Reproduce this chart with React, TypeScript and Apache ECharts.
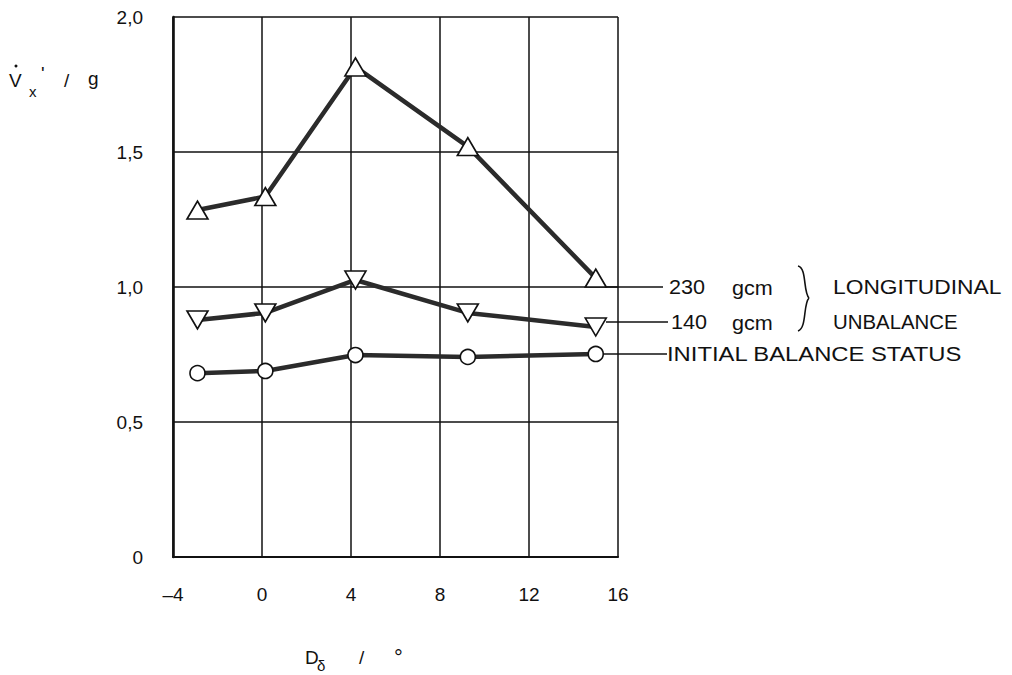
import React, { useEffect, useRef } from "react";
import * as echarts from "echarts";

// D_delta (degrees) positions of the measurements
const xValues = [-2.9, 0.15, 4.2, 9.25, 15.0];
// V'x / g for each balance state
const unbalance230 = [1.285, 1.335, 1.815, 1.52, 1.033];
const unbalance140 = [0.878, 0.904, 1.026, 0.904, 0.852];
const initialBalance = [0.681, 0.689, 0.748, 0.741, 0.752];

const xMin = -4;
const xMax = 16;
const xStep = 4;
const yMin = 0;
const yMax = 2;
const yStep = 0.5;

const FONT = '"Liberation Sans", Arial, sans-serif';

const pairs = (ys: number[]) => xValues.map((x, i) => [x, ys[i]]);

const txt = (
  text: string,
  x: number,
  y: number,
  fontSize: number,
  scaleX = 1,
  align: string = "left"
) => ({
  type: "text",
  x,
  y,
  scaleX,
  scaleY: 1,
  style: {
    text,
    fontSize,
    fontFamily: FONT,
    fill: "#111",
    align,
    verticalAlign: "middle",
  },
});

const lineEl = (x1: number, y1: number, x2: number, y2: number, w = 1.5) => ({
  type: "line",
  shape: { x1, y1, x2, y2 },
  style: { stroke: "#111", lineWidth: w },
});

const bez = (
  x1: number,
  y1: number,
  cpx1: number,
  cpy1: number,
  cpx2: number,
  cpy2: number,
  x2: number,
  y2: number
) => ({
  type: "bezierCurve",
  shape: { x1, y1, cpx1, cpy1, cpx2, cpy2, x2, y2 },
  style: { stroke: "#111", lineWidth: 1.6, fill: "none" },
});

export default function App() {
  const ref = useRef<HTMLDivElement>(null);

  useEffect(() => {
    if (!ref.current) return;
    const chart = echarts.init(ref.current, undefined, { renderer: "svg" });

    const lineStyle = { color: "#2b2b2b", width: 4.5 };
    const itemStyle = { color: "#fff", borderColor: "#111", borderWidth: 1.6 };

    chart.setOption({
      animation: false,
      backgroundColor: "#fff",
      grid: { left: 173, top: 17, width: 445, height: 540 },
      xAxis: {
        type: "value",
        min: xMin,
        max: xMax,
        interval: xStep,
        axisLine: { show: true, onZero: false, lineStyle: { color: "#111", width: 2.2 } },
        axisTick: { show: false },
        axisLabel: {
          margin: 28,
          fontSize: 19,
          fontFamily: FONT,
          color: "#111",
          formatter: (v: number) => (v < 0 ? "\u2013" + Math.abs(v) : String(v)),
        },
        splitLine: { show: true, lineStyle: { color: "#111", width: 1.5 } },
      },
      yAxis: {
        type: "value",
        min: yMin,
        max: yMax,
        interval: yStep,
        axisLine: { show: true, onZero: false, lineStyle: { color: "#111", width: 2.6 } },
        axisTick: { show: false },
        axisLabel: {
          margin: 30,
          fontSize: 19,
          fontFamily: FONT,
          color: "#111",
          formatter: (v: number) => (v === 0 ? "0" : v.toFixed(1).replace(".", ",")),
        },
        splitLine: { show: true, lineStyle: { color: "#111", width: 1.5 } },
      },
      series: [
        {
          name: "230 gcm",
          type: "line",
          data: pairs(unbalance230),
          symbol: "triangle",
          symbolSize: [21, 18],
          showAllSymbol: true,
          lineStyle,
          itemStyle,
          z: 3,
        },
        {
          name: "140 gcm",
          type: "line",
          data: pairs(unbalance140),
          symbol: "triangle",
          symbolRotate: 180,
          symbolSize: [21, 18],
          showAllSymbol: true,
          lineStyle,
          itemStyle,
          z: 3,
        },
        {
          name: "INITIAL BALANCE STATUS",
          type: "line",
          data: pairs(initialBalance),
          symbol: "circle",
          symbolSize: 15,
          showAllSymbol: true,
          lineStyle,
          itemStyle,
          z: 3,
        },
      ],
      graphic: [
        // y axis title  V̇x' / g
        txt("V", 9, 80, 19),
        { type: "circle", shape: { cx: 16, cy: 66, r: 1.5 }, style: { fill: "#111" } },
        txt("x", 29, 91, 15),
        txt("'", 41, 73, 19),
        txt("/", 64, 80, 19),
        txt("g", 88, 78, 19),
        // x axis title  Dδ / °
        txt("D", 305, 657, 19),
        txt("\u03b4", 317, 665, 15),
        txt("/", 359, 657, 19),
        txt("\u00b0", 394, 657, 22),
        // annotation leader lines
        lineEl(605, 287, 663, 287),
        lineEl(606, 322, 668, 322),
        lineEl(600, 354, 667, 354),
        // annotation texts
        txt("230", 669, 287, 20, 1.08),
        txt("gcm", 732, 288, 20, 1.08),
        txt("LONGITUDINAL", 833, 287, 20, 1.14),
        txt("140", 671, 322, 20, 1.08),
        txt("gcm", 732, 323, 20, 1.08),
        txt("UNBALANCE", 833, 322, 20, 1.02),
        txt("INITIAL BALANCE STATUS", 667, 354, 20, 1.19),
        // brace
        bez(798, 266, 807, 268, 803, 292, 809, 298),
        bez(809, 298, 803, 304, 807, 328, 798, 331),
      ],
    });

    return () => chart.dispose();
  }, []);

  return (
    <div
      ref={ref}
      style={{ position: "fixed", left: 0, top: 0, width: 1012, height: 675, background: "#fff" }}
    />
  );
}
